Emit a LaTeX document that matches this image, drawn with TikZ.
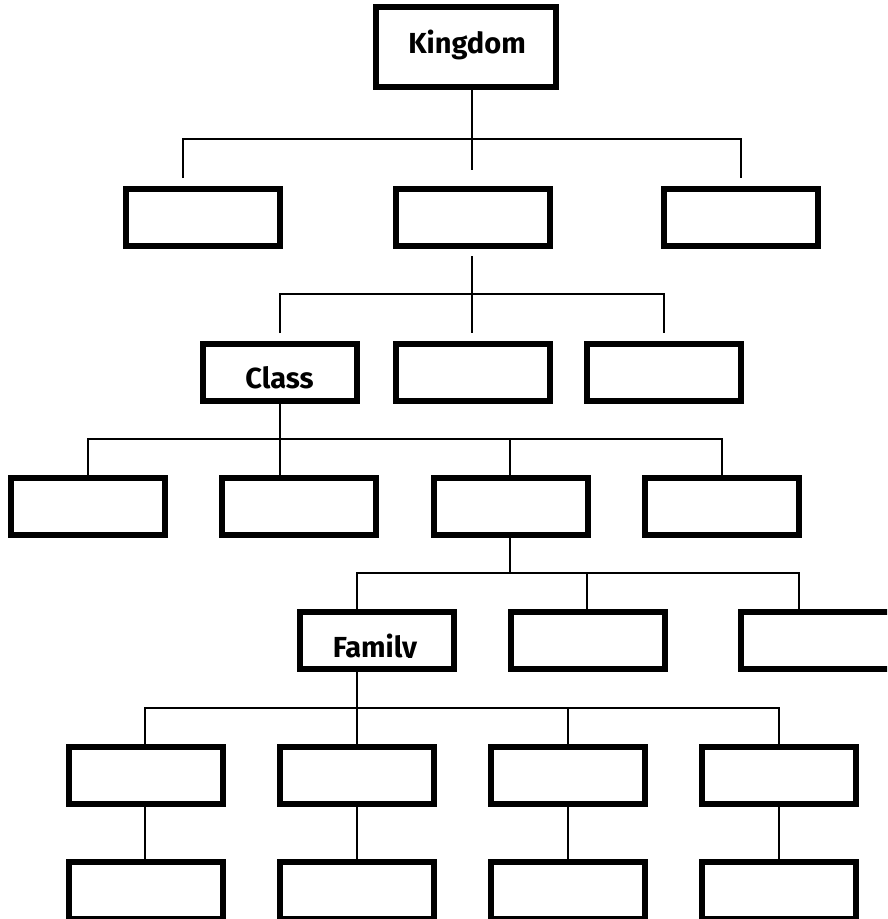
\documentclass[tikz,border=0pt]{standalone}
\usepackage{fontspec}
\setmainfont{Fira Sans}
\begin{document}
\begin{tikzpicture}[x=1pt,y=-1pt,
  box/.style={draw=black,line width=6pt,fill=white,minimum width=154pt,minimum height=57pt,inner sep=0pt,outer sep=0pt},
  bigbox/.style={box,minimum width=180pt,minimum height=80pt},
  link/.style={draw=black,line width=1.8pt},
  lbl/.style={font=\fontsize{29}{30}\selectfont\bfseries,inner sep=0pt,anchor=base}]
\useasboundingbox (0,0) rectangle (887,919);
\clip (0,0) rectangle (887,919);
% ---- connectors ----
\coordinate (h1) at (472,139);
\coordinate (h2) at (472,294);
\coordinate (h3) at (280,439);
\coordinate (h4) at (510,573);
\coordinate (h5) at (357,708);
% kingdom level
\draw[link] (472,88) -- (472,170);
\draw[link] (183,178) -- (183,139) -- (741,139) -- (741,178);
% row2 -> row3
\draw[link] (472,256) -- (472,333);
\draw[link] (280,333) -- (280,294) -- (664,294) -- (664,333);
% class -> row4
\draw[link] (280,402) -- (280,477);
\draw[link] (88,477) -- (88,439) -- (722,439) -- (722,477);
\draw[link] (510,439) -- (510,477);
% row4 -> row5
\draw[link] (510,536) -- (510,573);
\draw[link] (357,611) -- (357,573) -- (799,573) -- (799,611);
\draw[link] (587,573) -- (587,611);
% family -> row6
\draw[link] (357,670) -- (357,745);
\draw[link] (145,745) -- (145,708) -- (779,708) -- (779,745);
\draw[link] (568,708) -- (568,745);
% row6 -> row7
\foreach \x in {145,357,568,779} \draw[link] (\x,805) -- (\x,861);
% ---- boxes ----
\node[bigbox] (K) at (466,47) {};
\node[box] (A1) at (203,217) {};
\node[box] (A2) at (472.5,217) {};
\node[box] (A3) at (740.5,217) {};
\node[box] (Cl) at (279.5,372.5) {};
\node[box] (B2) at (472.5,372.5) {};
\node[box] (B3) at (663.5,372.5) {};
\node[box] (C1) at (88,506.5) {};
\node[box] (C2) at (299,506.5) {};
\node[box] (C3) at (510.5,506.5) {};
\node[box] (C4) at (721.5,506.5) {};
\node[box] (Fa) at (376.5,640.5) {};
\node[box] (D2) at (587.5,640.5) {};
\node[box] (D3) at (818,640.5) {};
\node[box] (E1) at (145.5,775) {};
\node[box] (E2) at (357,775) {};
\node[box] (E3) at (568,775) {};
\node[box] (E4) at (779,775) {};
\node[box] (F1) at (145.5,890) {};
\node[box] (F2) at (357,890) {};
\node[box] (F3) at (568,890) {};
\node[box] (F4) at (779,890) {};
% ---- labels ----
\node[lbl] (kt) at (467,53) {Kingdom};
\node[lbl] (ct) at (279.5,388) {Class};
\begin{scope}
\clip (300,600) rectangle (453,657);
\node[lbl] (ft) at (375,657) {Family};
\end{scope}
\end{tikzpicture}
\end{document}
